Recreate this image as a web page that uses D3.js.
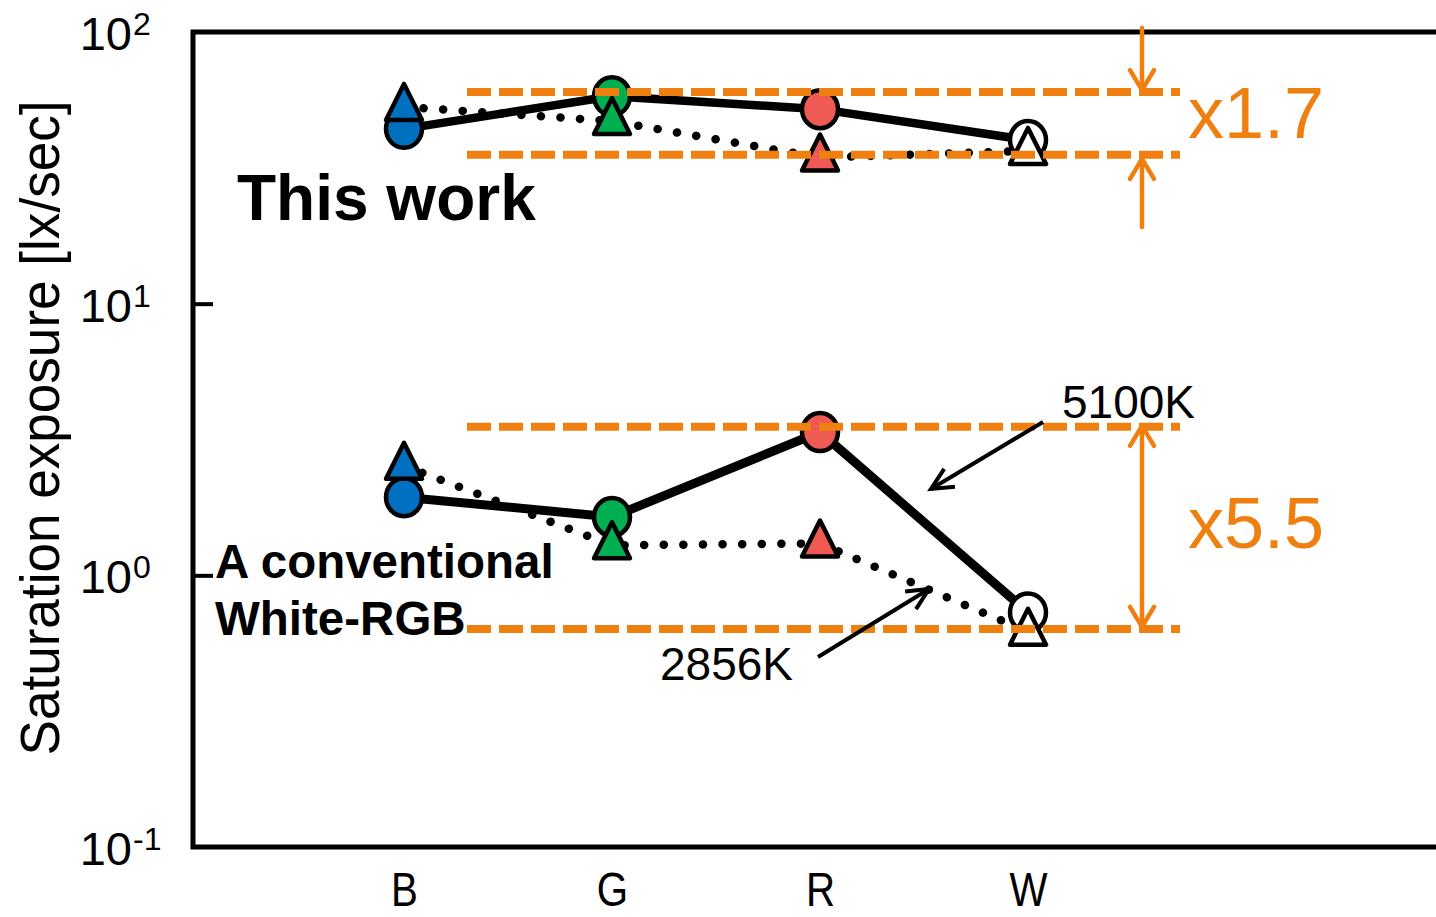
<!DOCTYPE html>
<html>
<head>
<meta charset="utf-8">
<script src="https://cdn.jsdelivr.net/npm/d3@7"></script>
<style>
  body { margin: 0; background: #fff; }
  svg { display: block; font-family: "Liberation Sans", Arial, sans-serif; }
</style>
</head>
<body>
<script>
'use strict';

// categories and values
const categories = ['B', 'G', 'R', 'W'];
const markerColors = ['#0070C0', '#00B050', '#F05A55', '#FFFFFF'];

const thisWork5100 = [44, 58, 52, 40];
const thisWork2856 = [53, 47, 34.5, 36.5];
const conv5100 = [1.94, 1.64, 3.37, 0.73];
const conv2856 = [2.53, 1.29, 1.31, 0.62];

// spread bands (upper, lower) and their ratio labels
const thisWorkBand = [60.1, 35.3];
const convBand = [3.52, 0.635];
const bandLabels = ['x1.7', 'x5.5'];

const yTicks = [0.1, 1, 10, 100];
const yExps = ['-1', '0', '1', '2'];

const orange = '#EF7F0E';

const width = 1436, height = 917;
const axisX = 193;

const svg = d3.select('body').append('svg')
  .attr('width', width)
  .attr('height', height);

const x = d3.scaleLinear().domain([1, 4]).range([404, 1028]);
const y = d3.scaleLog().domain([0.1, 100]).range([847, 32]);

// frame (open to the right)
svg.append('path')
  .attr('d', `M${width + 10},${y(100)} H${axisX} V${y(0.1)} H${width + 10}`)
  .attr('fill', 'none')
  .attr('stroke', '#000')
  .attr('stroke-width', 5);

// y axis ticks (inward)
const yAxis = d3.axisLeft(y).tickValues([1, 10]).tickSize(-20).tickFormat('');
const yg = svg.append('g').attr('transform', `translate(${axisX},0)`).call(yAxis);
yg.select('.domain').remove();
yg.selectAll('.tick line').attr('stroke', '#000').attr('stroke-width', 4);

// tick labels 10^n
yTicks.forEach((v, i) => {
  svg.append('text')
    .attr('x', 132).attr('y', y(v) + 18)
    .attr('text-anchor', 'end')
    .attr('font-size', 47)
    .text('10');
  svg.append('text')
    .attr('x', 133).attr('y', y(v) + 3)
    .attr('font-size', 32)
    .text(yExps[i]);
});

// y label
svg.append('text')
  .attr('transform', 'translate(59,428) rotate(-90)')
  .attr('text-anchor', 'middle')
  .attr('font-size', 56)
  .attr('textLength', 655)
  .attr('lengthAdjust', 'spacingAndGlyphs')
  .text('Saturation exposure [lx/sec]');

// x category labels
const xAxis = d3.axisBottom(x).tickValues([1, 2, 3, 4])
  .tickFormat(d => categories[d - 1]).tickSize(0);
const xg = svg.append('g').attr('transform', `translate(0,${y(0.1)})`).call(xAxis);
xg.select('.domain').remove();
xg.selectAll('.tick text')
  .attr('y', 59).attr('dy', 0)
  .attr('font-size', 48)
  .attr('font-family', '"Liberation Sans", Arial, sans-serif')
  .attr('fill', '#000')
  .attr('transform', 'scale(0.84,1)');

// series lines
const line = d3.line().x((d, i) => x(i + 1)).y(d => y(d));

function solid(data, w) {
  svg.append('path').datum(data)
    .attr('d', line)
    .attr('fill', 'none')
    .attr('stroke', '#000')
    .attr('stroke-width', w)
    .attr('stroke-linejoin', 'round');
}

function dotted(data) {
  svg.append('path').datum(data)
    .attr('d', line)
    .attr('fill', 'none')
    .attr('stroke', '#000')
    .attr('stroke-width', 8.5)
    .attr('stroke-linecap', 'round')
    .attr('stroke-dasharray', '0.1 19.5');
}

solid(thisWork5100, 8.5);
dotted(thisWork2856);
solid(conv5100, 9);
dotted(conv2856);

// markers: circles then triangles on top
const triPath = 'M0,-23 L18,13 L-18,13 Z';

function circles(data) {
  svg.append('g').selectAll('ellipse').data(data).enter()
    .append('ellipse')
    .attr('cx', (d, i) => x(i + 1))
    .attr('cy', d => y(d))
    .attr('rx', 18).attr('ry', 19)
    .attr('fill', (d, i) => markerColors[i])
    .attr('stroke', '#000')
    .attr('stroke-width', 4.5);
}

function triangles(data) {
  svg.append('g').selectAll('path').data(data).enter()
    .append('path')
    .attr('d', triPath)
    .attr('transform', (d, i) => `translate(${x(i + 1)},${y(d)})`)
    .attr('fill', (d, i) => markerColors[i])
    .attr('stroke', '#000')
    .attr('stroke-width', 4.5)
    .attr('stroke-linejoin', 'round');
}

circles(thisWork5100);
triangles(thisWork2856);
circles(conv5100);
triangles(conv2856);

// orange bands
const bandX0 = 467, bandX1 = 1180, arrowX = 1142;

function hline(v) {
  svg.append('line')
    .attr('x1', bandX0).attr('x2', bandX1)
    .attr('y1', y(v)).attr('y2', y(v))
    .attr('stroke', orange)
    .attr('stroke-width', 8)
    .attr('stroke-dasharray', '24 8');
}

function head(g, tx, ty, dir, color, len, half, w) {
  // dir: +1 tip pointing down, -1 tip pointing up
  g.append('path')
    .attr('d', `M${tx - half},${ty - dir * len} L${tx},${ty} L${tx + half},${ty - dir * len}`)
    .attr('fill', 'none')
    .attr('stroke', color)
    .attr('stroke-width', w)
    .attr('stroke-linecap', 'round')
    .attr('stroke-linejoin', 'round');
}

[thisWorkBand, convBand].forEach(b => b.forEach(hline));

const ag = svg.append('g');
function vline(y1, y2) {
  ag.append('line')
    .attr('x1', arrowX).attr('x2', arrowX)
    .attr('y1', y1).attr('y2', y2)
    .attr('stroke', orange)
    .attr('stroke-width', 4.5)
    .attr('stroke-linecap', 'round');
}

// this work: two arrows pointing inward
const t0 = y(thisWorkBand[0]) - 2, t1 = y(thisWorkBand[1]) + 4;
vline(28, t0);
head(ag, arrowX, t0, 1, orange, 20, 12, 4.5);
vline(227, t1);
head(ag, arrowX, t1, -1, orange, 20, 12, 4.5);

// conventional: double arrow
const c0 = y(convBand[0]) - 1, c1 = y(convBand[1]) - 2;
vline(c0, c1);
head(ag, arrowX, c0, -1, orange, 20, 12, 4.5);
head(ag, arrowX, c1, 1, orange, 20, 12, 4.5);

[thisWorkBand, convBand].forEach((b, i) => {
  const mid = (y(b[0]) + y(b[1])) / 2;
  svg.append('text')
    .attr('x', 1188).attr('y', mid + (i === 0 ? 15 : 20))
    .attr('font-size', 72)
    .attr('fill', orange)
    .text(bandLabels[i]);
});

// group labels
svg.append('text')
  .attr('x', 237).attr('y', 220)
  .attr('font-size', 64).attr('font-weight', 'bold')
  .text('This work');

svg.append('text')
  .attr('x', 215).attr('y', 578)
  .attr('font-size', 47.5).attr('font-weight', 'bold')
  .text('A conventional');

svg.append('text')
  .attr('x', 215).attr('y', 635)
  .attr('font-size', 47.5).attr('font-weight', 'bold')
  .text('White-RGB');

// colour temperature notes with pointers
function pointer(x1, y1, x2, y2) {
  svg.append('line')
    .attr('x1', x1).attr('y1', y1).attr('x2', x2).attr('y2', y2)
    .attr('stroke', '#000').attr('stroke-width', 4);
  const a = Math.atan2(y2 - y1, x2 - x1);
  const L = 24, s = 0.45;
  svg.append('path')
    .attr('d', `M${x2 - L * Math.cos(a - s)},${y2 - L * Math.sin(a - s)} L${x2},${y2} L${x2 - L * Math.cos(a + s)},${y2 - L * Math.sin(a + s)}`)
    .attr('fill', 'none')
    .attr('stroke', '#000').attr('stroke-width', 4)
    .attr('stroke-linejoin', 'miter');
}

svg.append('text')
  .attr('x', 1062).attr('y', 418)
  .attr('font-size', 46)
  .text('5100K');
pointer(1043, 422, 931, 489);

svg.append('text')
  .attr('x', 660).attr('y', 680)
  .attr('font-size', 46)
  .text('2856K');
pointer(818, 657, 929, 589);
</script>
</body>
</html>
